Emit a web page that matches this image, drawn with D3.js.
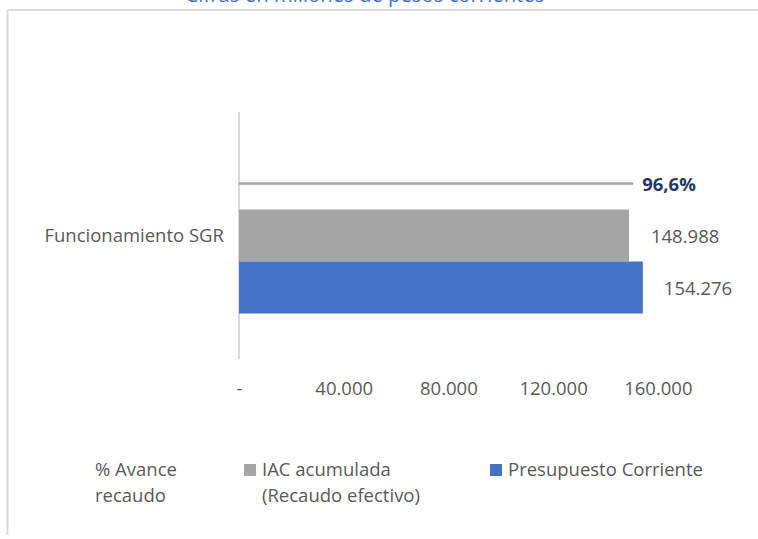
<!DOCTYPE html>
<html>
<head>
<meta charset="utf-8">
<script src="https://cdn.jsdelivr.net/npm/d3@7"></script>
<style>
  body { margin: 0; background: #fff; }
  text { font-family: "Open Sans", sans-serif; }
</style>
</head>
<body>
<div class="chart"></div>
<script>
// Funcionamiento SGR - horizontal bars
var svgWidth = 758;
var svgHeight = 539;

var categories = ["Funcionamiento SGR"];
var seriesNames = ["% Avance recaudo", "IAC acumulada (Recaudo efectivo)", "Presupuesto Corriente"];
var avanceValues = [0.966];
var iacValues = [148988];
var presupuestoValues = [154276];
var tickValues = [0, 40000, 80000, 120000, 160000];

var colors = {
  avance: "#A5A5A5",
  iac: "#A5A5A5",
  presupuesto: "#4472C4",
  text: "#595959",
  pctLabel: "#1F3864",
  frame: "#D9D9D9"
};

var locale = d3.formatLocale({ decimal: ",", thousands: ".", grouping: [3], currency: ["$", ""] });
var fmtNum = locale.format(",.0f");
var fmtPct = locale.format(".1%");

var svg = d3.select(".chart")
  .append("svg")
  .attr("width", svgWidth)
  .attr("height", svgHeight);

// Frame (only top and left edges are visible)
svg.append("line")
  .attr("x1", 7.5).attr("x2", svgWidth).attr("y1", 10).attr("y2", 10)
  .attr("stroke", colors.frame).attr("stroke-width", 2);
svg.append("line")
  .attr("x1", 7.5).attr("x2", 7.5).attr("y1", 10).attr("y2", 535)
  .attr("stroke", colors.frame).attr("stroke-width", 2);

// Clipped subtitle at the very top
svg.append("text")
  .attr("x", 365)
  .attr("y", 1.5)
  .attr("text-anchor", "middle")
  .attr("fill", "#4472C4")
  .style("font-size", "20.3px")
  .text("Cifras en millones de pesos corrientes");

// Scales
var x = d3.scaleLinear()
  .domain([0, 160000])
  .range([239, 657.8]);

var xPct = d3.scaleLinear()
  .domain([0, 1])
  .range([239, 647]);

var yCat = d3.scaleBand()
  .domain(categories)
  .range([112, 359]);

var ySeries = d3.scaleBand()
  .domain(seriesNames)
  .range([0, 156]);

var catOffset = function (c) { return yCat(c) + (yCat.bandwidth() - ySeries.range()[1]) / 2; };

// Bottom axis (labels only)
var bottomAxis = d3.axisBottom(x)
  .tickValues(tickValues)
  .tickSize(0)
  .tickFormat(function (d) { return d === 0 ? "-" : fmtNum(d); });

var axisG = svg.append("g")
  .attr("transform", "translate(0, 359)")
  .call(bottomAxis);
axisG.select(".domain").remove();
axisG.selectAll("text")
  .attr("y", 36)
  .attr("dy", 0)
  .attr("fill", colors.text)
  .style("font-family", "'Open Sans', sans-serif")
  .style("font-size", "18.5px");

// Category axis line
svg.append("line")
  .attr("x1", x(0)).attr("x2", x(0))
  .attr("y1", yCat.range()[0]).attr("y2", yCat.range()[1])
  .attr("stroke", colors.frame)
  .attr("stroke-width", 2);

// Category labels
svg.selectAll(".cat-label")
  .data(categories)
  .enter()
  .append("text")
  .attr("class", "cat-label")
  .attr("x", 224)
  .attr("y", d => yCat(d) + yCat.bandwidth() / 2 + 6.5)
  .attr("text-anchor", "end")
  .attr("fill", colors.text)
  .style("font-size", "18.5px")
  .text(d => d);

// % Avance series drawn as a thin line
svg.selectAll(".avance-line")
  .data(categories)
  .enter()
  .append("line")
  .attr("class", "avance-line")
  .attr("x1", x(0))
  .attr("x2", (d, i) => xPct(avanceValues[i]))
  .attr("y1", d => catOffset(d) + ySeries(seriesNames[0]) + ySeries.bandwidth() / 2)
  .attr("y2", d => catOffset(d) + ySeries(seriesNames[0]) + ySeries.bandwidth() / 2)
  .attr("stroke", colors.avance)
  .attr("stroke-width", 2.5);

svg.selectAll(".avance-label")
  .data(categories)
  .enter()
  .append("text")
  .attr("class", "avance-label")
  .attr("x", (d, i) => xPct(avanceValues[i]) + 9)
  .attr("y", d => catOffset(d) + ySeries(seriesNames[0]) + ySeries.bandwidth() / 2 + 7)
  .attr("fill", colors.pctLabel)
  .style("font-size", "18.5px")
  .style("font-weight", "bold")
  .text((d, i) => fmtPct(avanceValues[i]));

// Bars
var barSeries = [
  { name: seriesNames[1], values: iacValues, color: colors.iac, gap: 22 },
  { name: seriesNames[2], values: presupuestoValues, color: colors.presupuesto, gap: 21 }
];

barSeries.forEach(function (s) {
  svg.selectAll(null)
    .data(categories)
    .enter()
    .append("rect")
    .attr("x", x(0))
    .attr("y", d => catOffset(d) + ySeries(s.name))
    .attr("width", (d, i) => x(s.values[i]) - x(0))
    .attr("height", ySeries.bandwidth())
    .attr("fill", s.color);

  svg.selectAll(null)
    .data(categories)
    .enter()
    .append("text")
    .attr("x", (d, i) => x(s.values[i]) + s.gap)
    .attr("y", d => catOffset(d) + ySeries(s.name) + ySeries.bandwidth() / 2 + 7)
    .attr("fill", colors.text)
    .style("font-size", "18.5px")
    .text((d, i) => fmtNum(s.values[i]));
});

// Legend
var legendItems = [
  { lines: ["% Avance", "recaudo"], x: 95, swatch: null },
  { lines: ["IAC acumulada", "(Recaudo efectivo)"], x: 244, swatch: colors.iac },
  { lines: ["Presupuesto Corriente"], x: 490, swatch: colors.presupuesto }
];

var legend = svg.append("g");
legendItems.forEach(function (item) {
  var tx = item.x;
  if (item.swatch) {
    legend.append("rect")
      .attr("x", item.x)
      .attr("y", 464)
      .attr("width", 12)
      .attr("height", 12)
      .attr("fill", item.swatch);
    tx = item.x + 18;
  }
  item.lines.forEach(function (line, j) {
    legend.append("text")
      .attr("x", tx)
      .attr("y", 476 + j * 26)
      .attr("fill", colors.text)
      .style("font-size", "18.5px")
      .text(line);
  });
});
</script>
</body>
</html>
